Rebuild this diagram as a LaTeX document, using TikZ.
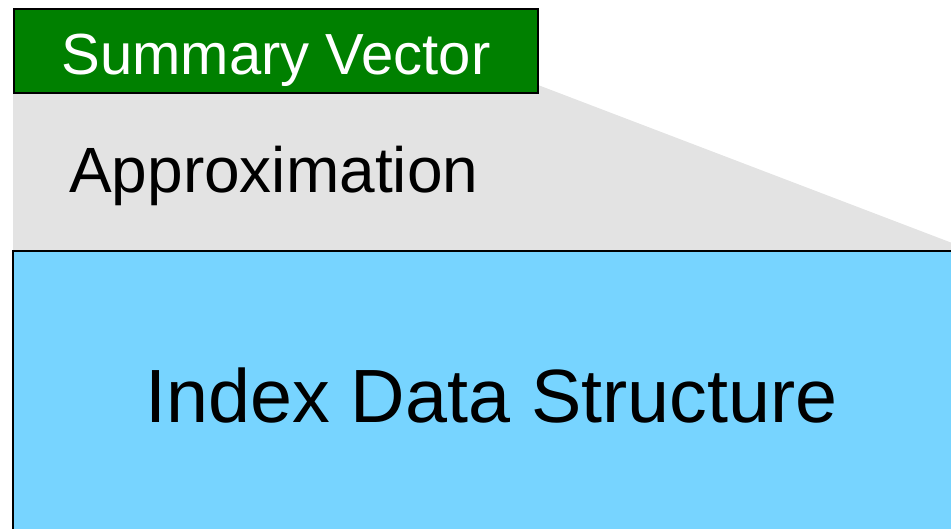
\documentclass[tikz,border=0pt]{standalone}
\usepackage{fontspec}
\setmainfont{Liberation Sans}
\definecolor{vecgreen}{HTML}{008000}
\definecolor{idxblue}{HTML}{77D4FF}
\definecolor{approxgray}{HTML}{E3E3E3}
\begin{document}
\begin{tikzpicture}[x=1pt,y=-1pt,
  boxline/.style={draw=black,line width=2pt},
  label/.style={inner sep=0pt,anchor=base west}]
\useasboundingbox (0,0) rectangle (951,529);
% approximation band between the summary vector and the index
\fill[approxgray] (13,85) -- (538,85) -- (960,246) -- (960,252) -- (13,252) -- cycle;
% index data structure (runs off the right and bottom edges)
\fill[idxblue] (13,251) rectangle (960,540);
\draw[boxline] (13,540) -- (13,251) -- (960,251);
\node[label,font=\fontsize{75.5}{80}\selectfont] (idx) at (145,422) {Index Data Structure};
% summary vector
\node[boxline,fill=vecgreen,minimum width=524pt,minimum height=84pt,inner sep=0pt,anchor=north west] (sv) at (13,8) {};
\node[label,anchor=base,text=white,font=\fontsize{58}{62}\selectfont] (svt) at (sv.center |- 0,75) {Summary Vector};
\node[label,font=\fontsize{64}{68}\selectfont] (ap) at (69,193) {Approximation};
\end{tikzpicture}
\end{document}
